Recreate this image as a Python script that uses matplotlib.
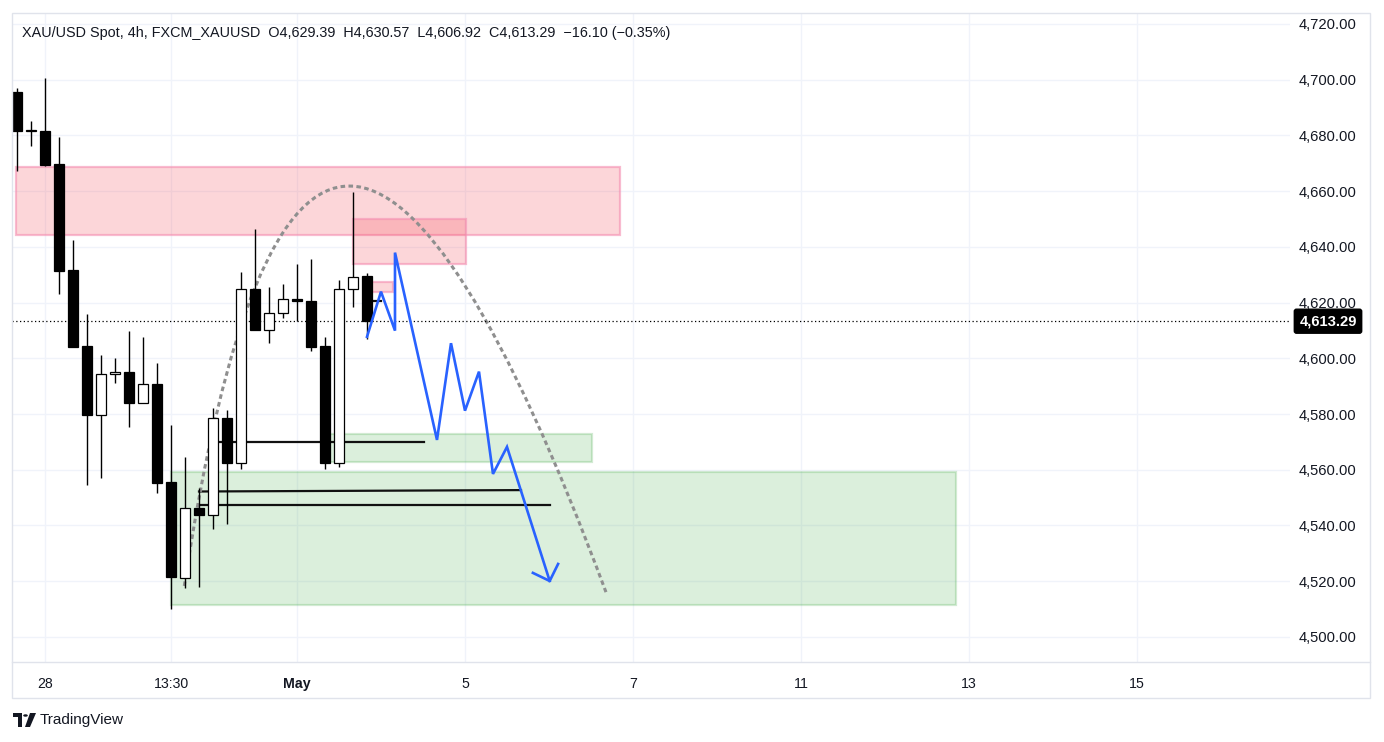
import matplotlib
matplotlib.use("Agg")
import matplotlib.pyplot as plt
from matplotlib.patches import Rectangle, PathPatch, Circle, Polygon
from matplotlib.path import Path
from matplotlib.lines import Line2D
from matplotlib.transforms import blended_transform_factory

plt.rcParams['font.family'] = ['Liberation Sans', 'DejaVu Sans']

# 4h candles, bar 0 is the first one on screen
opens  = [4695.5, 4681.4, 4681.4, 4669.6, 4631.6, 4604.5, 4579.8, 4594.2, 4595.1, 4584.0,
          4590.8, 4555.6, 4521.3, 4546.2, 4543.9, 4578.4, 4562.3, 4624.7, 4610.3, 4616.4,
          4621.1, 4620.5, 4604.3, 4562.3, 4624.7, 4629.39]
highs  = [4697.0, 4685.0, 4700.6, 4679.4, 4642.3, 4616.0, 4601.2, 4600.2, 4609.9, 4607.5,
          4598.3, 4576.1, 4564.6, 4553.3, 4582.0, 4581.3, 4631.0, 4646.3, 4625.4, 4626.8,
          4633.8, 4635.5, 4607.6, 4628.1, 4659.8, 4630.57]
lows   = [4667.0, 4676.3, 4669.1, 4623.1, 4604.1, 4554.5, 4557.1, 4591.0, 4575.3, 4584.0,
          4551.6, 4509.9, 4517.7, 4518.0, 4538.7, 4540.7, 4560.1, 4610.2, 4605.3, 4614.3,
          4613.5, 4602.6, 4560.1, 4561.0, 4618.5, 4606.92]
closes = [4681.4, 4681.6, 4669.5, 4631.4, 4604.1, 4579.8, 4594.2, 4594.9, 4584.0, 4590.8,
          4555.4, 4521.5, 4546.2, 4543.9, 4578.4, 4562.3, 4624.7, 4610.2, 4616.4, 4621.1,
          4620.4, 4604.0, 4562.3, 4624.7, 4629.0, 4613.29]

tick_pos    = [2, 11, 20, 32, 44, 56, 68, 80]
tick_labels = ["28", "13:30", "May", "5", "7", "11", "13", "15"]
price_ticks = [4500, 4520, 4540, 4560, 4580, 4600, 4620, 4640, 4660, 4680, 4700, 4720]
last_price = 4613.29
title = ("XAU/USD Spot, 4h, FXCM_XAUUSD  O4,629.39  H4,630.57  L4,606.92  "
         "C4,613.29  \u221216.10 (\u22120.35%)")

# zones: (left bar, right bar, low, high)
supply_zones = [(-0.1, 43.1, 4644.2, 4668.6), (24.0, 32.05, 4633.8, 4649.9), (25.0, 26.85, 4623.8, 4627.4)]
demand_zones = [(11.0, 67.1, 4511.5, 4559.1), (22.0, 41.1, 4562.7, 4572.7)]
# trend lines: (x0, x1, y0, y1)
levels = [(14, 29.05, 4569.9, 4569.9), (13, 36.0, 4552.2, 4552.7),
          (13, 38.05, 4547.5, 4547.5), (25.4, 26.0, 4620.5, 4620.5)]
# projected path + arrow head
path_x = [25, 26, 27, 27, 30, 31, 32, 33, 34, 35, 38.05]
path_y = [4607.7, 4623.9, 4609.9, 4637.9, 4570.7, 4605.4, 4581.2, 4595.2, 4558.5, 4568.2, 4520.1]
head_x = [36.85, 38.05, 38.65]
head_y = [4523.0, 4520.1, 4526.2]
# arc: start, control, end
arc_x = [11.95, 20.57, 42.07]
arc_y = [4518.3, 4806.4, 4516.1]

W, H = 1384, 742
fig = plt.figure(figsize=(W / 100, H / 100), dpi=100)
ax = fig.add_axes([12 / W, (H - 662) / H, (1290 - 12) / W, (662 - 13) / H])
ax.set_xlim(-0.357, 90.93)
ax.set_ylim(4491.03, 4723.86)

ax.set_yticks(price_ticks)
ax.set_yticklabels(["{:,.2f}".format(p) for p in price_ticks])
ax.set_xticks(tick_pos)
ax.set_xticklabels(tick_labels)
ax.get_xticklabels()[2].set_fontweight("bold")
ax.yaxis.tick_right()
ax.tick_params(axis="y", length=0, pad=6, labelsize=10.6, labelcolor="#131722")
ax.tick_params(axis="x", length=0, pad=11, labelsize=10.2, labelcolor="#131722")
ax.grid(color="#f0f3fa", lw=1, zorder=0)
ax.set_axisbelow(True)
for s in ax.spines.values():
    s.set_visible(False)

red_fill = (242 / 255, 54 / 255, 69 / 255, 0.2)
red_edge = (244 / 255, 143 / 255, 177 / 255, 0.6)
green_fill = (76 / 255, 175 / 255, 80 / 255, 0.2)
green_edge = (76 / 255, 175 / 255, 80 / 255, 0.25)
for x0, x1, lo, hi in supply_zones:
    ax.add_patch(Rectangle((x0, lo), x1 - x0, hi - lo, fc=red_fill, ec=red_edge, lw=1.6, zorder=1))
for x0, x1, lo, hi in demand_zones:
    ax.add_patch(Rectangle((x0, lo), x1 - x0, hi - lo, fc=green_fill, ec=green_edge, lw=1.6, zorder=1))

for x0, x1, y0, y1 in levels:
    ax.plot([x0, x1], [y0, y1], color="#111111", lw=1.6, zorder=2)

arc = Path(list(zip(arc_x, arc_y)), [Path.MOVETO, Path.CURVE3, Path.CURVE3])
ax.add_patch(PathPatch(arc, fill=False, ec="#8f8f8f", lw=2.2, ls=(0, (1.5, 1.1)), zorder=2))

ax.axhline(last_price, color="black", lw=0.9, ls=(0, (1, 2)), zorder=2)

# candles
for i in range(len(opens)):
    o, h, l, c = opens[i], highs[i], lows[i], closes[i]
    ax.vlines(i, l, h, color="black", lw=1, zorder=3)
    face = "white" if c > o else "black"
    ax.bar(i, max(abs(c - o), 0.4), bottom=min(o, c), width=0.71,
           color=face, edgecolor="black", lw=0.9, zorder=4)

ax.plot(path_x, path_y, color="#2962ff", lw=1.9, zorder=5, solid_joinstyle="miter")
ax.plot(head_x, head_y, color="#2962ff", lw=1.9, zorder=5)

trans = blended_transform_factory(fig.transFigure, ax.transData)
ax.text(1328 / W, last_price, "{:,.2f}".format(last_price), transform=trans, ha="center", va="center",
        color="white", fontsize=10.6, fontweight="bold", zorder=10, clip_on=False,
        bbox=dict(boxstyle="round,pad=0.34,rounding_size=0.15", fc="black", ec="black"))

fig.text(22 / W, 1 - 33 / H, title, ha="left", va="center", fontsize=10.4, color="#131722")

# frame
fig.add_artist(Rectangle((12 / W, (H - 698) / H), (1370 - 12) / W, (698 - 13) / H,
                         transform=fig.transFigure, fill=False, ec="#e0e3eb", lw=1))
fig.add_artist(Line2D([12 / W, 1370 / W], [(H - 662) / H] * 2, transform=fig.transFigure,
                      color="#e0e3eb", lw=1))

# logo
def fx(x):
    return x / W
def fy(y):
    return 1 - y / H
fig.add_artist(Polygon([(fx(13), fy(713)), (fx(22), fy(713)), (fx(22), fy(727)), (fx(18), fy(727)),
                        (fx(18), fy(717)), (fx(13), fy(717))], transform=fig.transFigure, fc="#131722", ec="none"))
fig.add_artist(Circle((fx(25.5), fy(715.5)), 2.3 / W, transform=fig.transFigure, fc="#131722", ec="none"))
fig.add_artist(Polygon([(fx(30), fy(713)), (fx(36), fy(713)), (fx(30), fy(727)), (fx(25), fy(727))],
                       transform=fig.transFigure, fc="#131722", ec="none"))
fig.text(fx(40), fy(720), "TradingView", ha="left", va="center", fontsize=11, color="#131722")

fig.savefig("out.png", dpi=100, facecolor="white")
